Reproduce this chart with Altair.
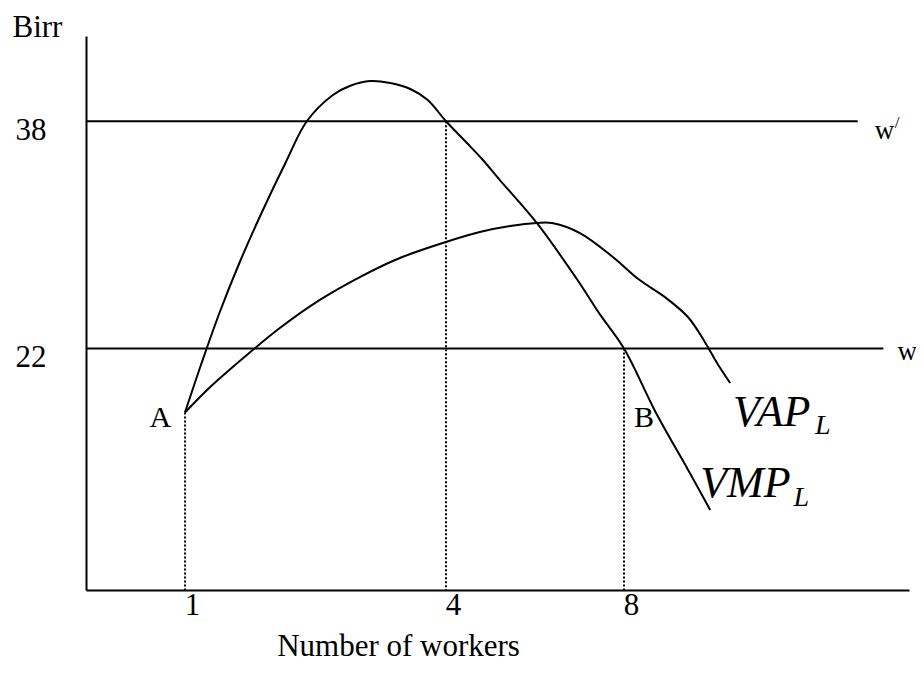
import altair as alt
import pandas as pd

# ---- data (workers on x, Birr on y) ----
vmp_workers = [1.0, 1.195, 1.40, 1.63, 1.885, 2.16, 2.40, 2.70, 2.90, 3.13, 3.36, 3.59, 3.79, 4.0,
               4.47, 4.81, 5.21, 6.04, 6.94, 7.46, 8.0, 8.45, 8.90, 9.21]
vmp_birr = [17.5, 21.05, 24.57, 28.09, 31.61, 35.13, 38.0, 39.85, 40.50, 40.83, 40.69, 40.27, 39.49, 38.0,
            36.47, 35.34, 33.86, 30.84, 26.89, 24.4, 22.0, 17.46, 13.45, 10.63]

vap_workers = [1.0, 1.29, 1.67, 2.09, 2.55, 3.01, 3.47, 4.0, 4.76, 5.44, 6.04, 6.38, 7.01, 7.75,
               8.20, 8.58, 8.90, 9.13, 9.31, 9.49]
vap_birr = [17.5, 19.29, 21.33, 23.44, 25.42, 27.03, 28.37, 29.50, 30.20, 30.62, 30.84, 30.84, 30.13, 28.44,
            26.89, 25.60, 24.20, 22.50, 20.95, 19.57]

wage_levels = [38, 22]
wage_line_end = [11.28, 11.64]

drop_workers = [1, 4, 8]
drop_top = [17.5, 38, 22]

x_ticks = [1, 4, 8]
y_ticks = [22, 38]

# annotation labels
plain_text = ["A", "B"]
plain_x = [0.75, 8.28]
plain_y = [16.47, 16.47]

curve_names = ["VAP", "VMP"]
curve_name_x = [9.53, 9.07]
curve_name_y = [16.55, 11.55]
sub_text = ["L", "L"]
sub_x = [10.68, 10.38]
sub_y = [15.98, 10.91]

wage_text = ["w", "w"]
wage_text_x = [11.52, 11.84]
wage_text_y = [36.75, 21.19]
prime_text = ["/"]
prime_x = [11.80]
prime_y = [37.52]

FONT = "Liberation Serif"
AXIS_MIN = 5

xscale = alt.Scale(domain=[0, 1, 4, 8, 12], range=[0, 99, 360, 538, 823], nice=False, zero=False)
yscale = alt.Scale(domain=[AXIS_MIN, 44], nice=False, zero=False)

curves = pd.DataFrame({
    "workers": vmp_workers + vap_workers,
    "birr": vmp_birr + vap_birr,
    "curve": ["VMP"] * len(vmp_workers) + ["VAP"] * len(vap_workers),
    "order": list(range(len(vmp_workers))) + list(range(len(vap_workers))),
})

wages = pd.DataFrame({"birr": wage_levels, "start": [0, 0], "end": wage_line_end})
drops = pd.DataFrame({"workers": drop_workers, "top": drop_top, "bottom": [AXIS_MIN] * 3})

base_x = alt.X("workers:Q", scale=xscale,
               axis=alt.Axis(values=x_ticks, format="d", title="Number of workers", grid=False, ticks=False,
                             tickSize=0, domainColor="black", domainWidth=2, labelFont=FONT, labelFontSize=31,
                             labelColor="black", labelBaseline="alphabetic", labelPadding=24, labelOffset=7,
                             labelFlush=False, titleFont=FONT, titleFontSize=31, titleFontWeight="normal",
                             titleColor="black", titleX=312, titleY=65, titleBaseline="alphabetic",
                             titleAlign="center"))
base_y = alt.Y("birr:Q", scale=yscale,
               axis=alt.Axis(values=y_ticks, format="d", title="Birr", grid=False, ticks=False, tickSize=0,
                             domainColor="black", domainWidth=2, labelFont=FONT, labelFontSize=31,
                             labelColor="black", labelAlign="right", labelBaseline="alphabetic",
                             labelPadding=40, labelOffset=18, labelFlush=False,
                             titleFont=FONT, titleFontSize=31, titleFontWeight="normal", titleColor="black",
                             titleAngle=0, titleAlign="left", titleBaseline="alphabetic",
                             titleX=-74, titleY=0))

curve_layer = alt.Chart(curves).mark_line(color="black", strokeWidth=2, interpolate="catmull-rom").encode(
    x=base_x, y=base_y, detail="curve:N", order="order:Q")

wage_layer = alt.Chart(wages).mark_rule(color="black", strokeWidth=2).encode(
    x=alt.X("start:Q", scale=xscale), x2="end:Q", y=alt.Y("birr:Q", scale=yscale))

drop_layer = alt.Chart(drops).mark_rule(color="black", strokeWidth=2, strokeDash=[2, 2]).encode(
    x=alt.X("workers:Q", scale=xscale), y=alt.Y("top:Q", scale=yscale), y2="bottom:Q")


def text_layer(texts, xs, ys, size, style="normal", align="left"):
    df = pd.DataFrame({"t": texts, "x": xs, "y": ys})
    return alt.Chart(df).mark_text(font=FONT, fontSize=size, fontStyle=style, color="black",
                                   align=align, baseline="alphabetic").encode(
        x=alt.X("x:Q", scale=xscale), y=alt.Y("y:Q", scale=yscale), text="t:N")


labels = [
    text_layer(plain_text, plain_x, plain_y, 30, align="center"),
    text_layer(curve_names, curve_name_x, curve_name_y, 44, style="italic"),
    text_layer(sub_text, sub_x, sub_y, 28, style="italic"),
    text_layer(wage_text, wage_text_x, wage_text_y, 27),
    text_layer(prime_text, prime_x, prime_y, 17),
]

chart = alt.layer(wage_layer, drop_layer, curve_layer, *labels).properties(
    width=823, height=554,
    padding={"left": 78, "top": 28, "right": 7, "bottom": 80},
    autosize=alt.AutoSizeParams(type="none"),
    background="white",
).configure_view(strokeWidth=0)

chart.save("out.html", embed_options={"renderer": "svg", "actions": False})
